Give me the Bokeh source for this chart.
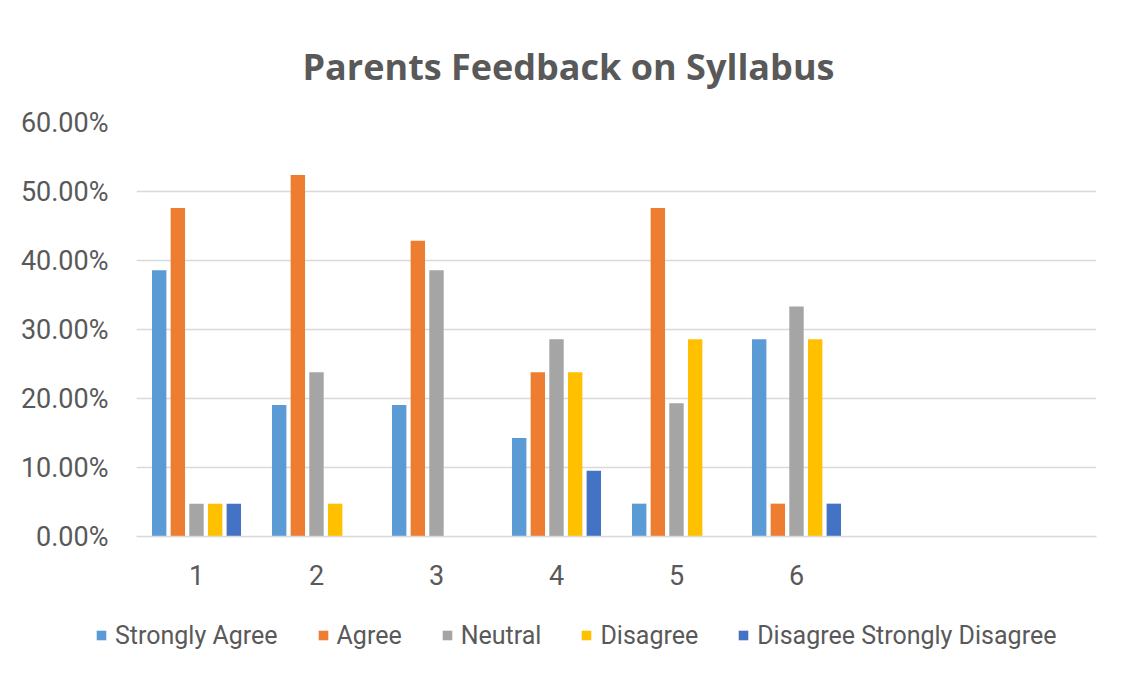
from bokeh.plotting import figure
from bokeh.layouts import column
from bokeh.models import (ColumnDataSource, Range1d, FactorRange, NumeralTickFormatter,
                          Legend, LegendItem, Title, FixedTicker)
from bokeh.transform import dodge
from bokeh.embed import file_html
from bokeh.resources import INLINE

# ---- data ----
categories = ["1", "2", "3", "4", "5", "6"]
axis_factors = ["1", "2", "3", "4", "5", "6", " ", "  "]
strongly_agree = [0.386, 0.1905, 0.1905, 0.1429, 0.0476, 0.2857]
agree = [0.4762, 0.5238, 0.4286, 0.2381, 0.4762, 0.0476]
neutral = [0.0476, 0.2381, 0.386, 0.2857, 0.193, 0.3333]
disagree = [0.0476, 0.0476, 0.0, 0.2381, 0.2857, 0.2857]
disagree_strongly = [0.0476, 0.0, 0.0, 0.0952, 0.0, 0.0476]
y_ticks = [0.0, 0.1, 0.2, 0.3, 0.4, 0.5, 0.6]
series_names = ["Strongly Agree", "Agree", "Neutral", "Disagree", "Disagree Strongly Disagree"]
series_keys = ["sa", "a", "n", "d", "sd"]
colors = ["#5B9BD5", "#ED7D31", "#A5A5A5", "#FFC000", "#4472C4"]
title_text = "Parents Feedback on Syllabus"

source = ColumnDataSource(dict(cat=categories, sa=strongly_agree, a=agree, n=neutral,
                               d=disagree, sd=disagree_strongly))

FONT = "Roboto"
TXT = "#595959"
GRID = "#D9D9D9"

p = figure(frame_width=960, frame_height=414, x_range=FactorRange(*axis_factors),
           y_range=Range1d(0, 0.6), output_backend="svg", toolbar_location=None,
           min_border_left=136, min_border_right=19, min_border_top=122,
           min_border_bottom=60, title=None)
p.outline_line_color = None
p.background_fill_color = "white"
p.border_fill_color = "white"

offsets = [-0.311, -0.1555, 0.0, 0.1555, 0.311]
for key, off, col in zip(series_keys, offsets, colors):
    p.vbar(x=dodge("cat", off, range=p.x_range), top=key, width=0.12,
           source=source, fill_color=col, line_color=None)

# axes
p.yaxis.ticker = FixedTicker(ticks=y_ticks)
p.yaxis.formatter = NumeralTickFormatter(format="0.00%")
for ax in (p.xaxis[0], p.yaxis[0]):
    ax.major_tick_line_color = None
    ax.minor_tick_line_color = None
    ax.major_label_text_font = FONT
    ax.major_label_text_font_size = "27px"
    ax.major_label_text_color = TXT
p.yaxis.axis_line_color = None
p.yaxis.major_label_standoff = 22
p.xaxis.axis_line_color = GRID
p.xaxis.axis_line_width = 1.5
p.xaxis.major_label_standoff = 17
p.xgrid.grid_line_color = None
p.ygrid.grid_line_color = GRID
p.ygrid.grid_line_width = 1.5

# title
p.add_layout(Title(text=title_text, align="left", offset=166, vertical_align="top",
                   standoff=60, text_font="Open Sans", text_font_style="bold",
                   text_font_size="36px", text_color=TXT), "above")

# legend strip: a separate figure, its bars fall below its visible y range
leg = figure(width=1115, height=64, x_range=p.x_range, y_range=Range1d(1, 2),
             x_axis_type=None, y_axis_type=None, output_backend="svg",
             toolbar_location=None, min_border=0, title=None)
leg.outline_line_color = None
leg.xgrid.grid_line_color = None
leg.ygrid.grid_line_color = None
leg_renderers = []
for key, off, col in zip(series_keys, offsets, colors):
    leg_renderers.append(leg.vbar(x=dodge("cat", off, range=leg.x_range), top=key, width=0.12,
                                  source=source, fill_color=col, line_color=None))

legend = Legend(items=[LegendItem(label=n, renderers=[r]) for n, r in zip(series_names, leg_renderers)],
                orientation="horizontal", location=(95, 10), padding=0, margin=0,
                spacing=39, label_standoff=8, glyph_width=12, glyph_height=12,
                label_height=30, label_text_font=FONT, label_text_font_size="25px",
                label_text_color=TXT, border_line_color=None, background_fill_alpha=0)
leg.add_layout(legend, "center")

layout = column(p, column(leg, spacing=0), spacing=0)
open("out.html", "w").write(file_html(layout, INLINE))
